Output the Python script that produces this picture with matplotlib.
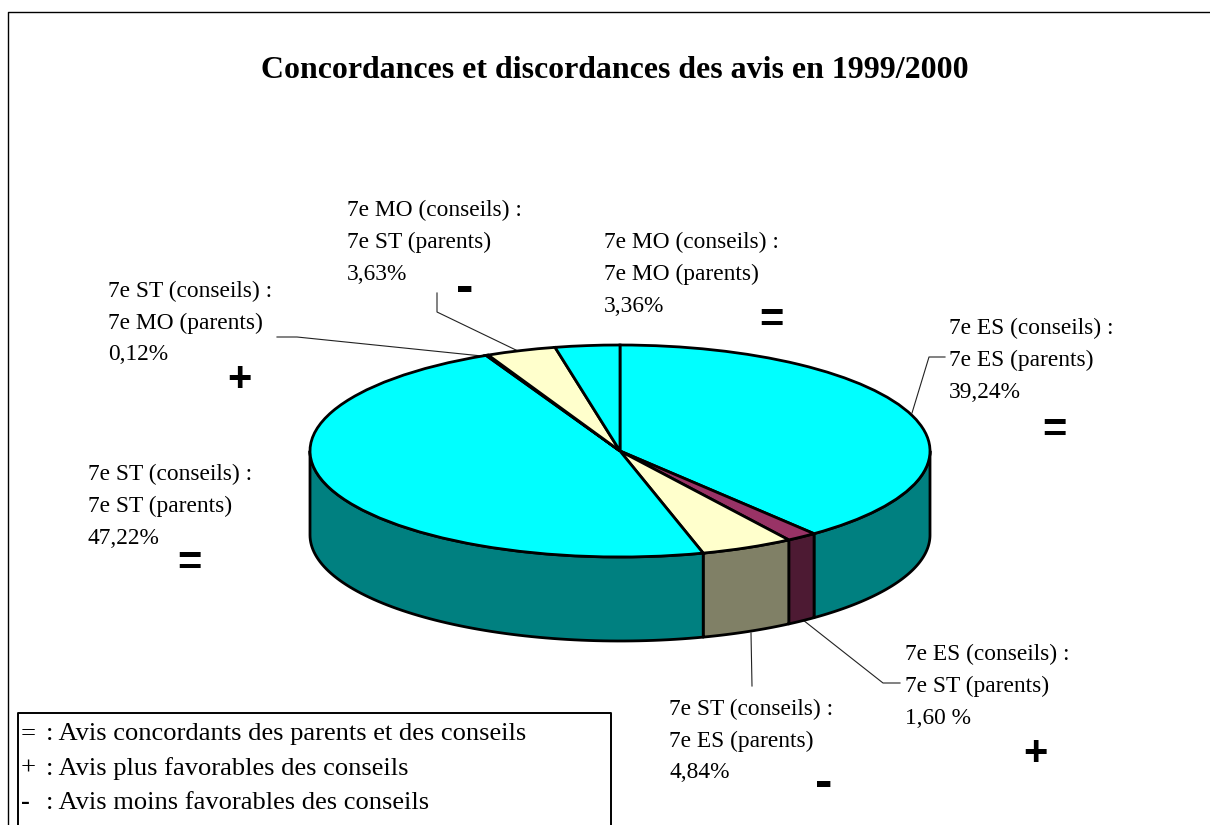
import matplotlib
matplotlib.use('Agg')
import matplotlib.pyplot as plt
import numpy as np

# Data
titre = 'Concordances et discordances des avis en 1999/2000'
conseils = ['7e ES', '7e ES', '7e ST', '7e ST', '7e ST', '7e MO', '7e MO']
parents = ['7e ES', '7e ST', '7e ES', '7e ST', '7e MO', '7e ST', '7e MO']
valeurs = [39.24, 1.60, 4.84, 47.22, 0.12, 3.63, 3.36]
pourcents = ['39,24%', '1,60 %', '4,84%', '47,22%', '0,12%', '3,63%', '3,36%']
signes = ['=', '+', '-', '=', '+', '-', '=']
legende_signes = ['=', '+', '-']
legende_textes = [': Avis concordants des parents et des conseils',
                  ': Avis plus favorables des conseils',
                  ': Avis moins favorables des conseils']

# Styles
couleurs_dessus = ['#00FFFF', '#993366', '#FFFFCC', '#00FFFF', '#993366', '#FFFFCC', '#00FFFF']
couleurs_cote = ['#008080', '#4D1A33', '#808066', '#008080', '#4D1A33', '#808066', '#008080']
serif = 'Liberation Serif'

# Layout in pixels
W, H = 1210, 825
cx, cy, rx, ry, depth = 620, 451, 310, 106, 84
label_x = [949, 905, 669, 88, 108, 347, 604]
label_y = [328, 654, 709, 474, 291, 210, 242]
signe_x = [1054, 1035, 824, 189, 239, 465, 771]
signe_y = [431, 754, 784, 564, 380, 289, 321]
leaders = [([912, 929, 945], [413, 357, 357]),
           ([803, 883, 900], [620, 683, 683]),
           ([751, 752], [633, 686]),
           ([482, 297, 277], [356, 337, 337]),
           ([518, 437, 437], [351, 312, 293])]

fig = plt.figure(figsize=(W / 100, H / 100), dpi=100)
page = fig.add_axes([0, 0, 1, 1])
page.set_xlim(0, W)
page.set_ylim(H, 0)
page.axis('off')

# Frame, cut by the picture edge on the right and at the bottom
page.plot([8, 8, W + 5], [H + 5, 12, 12], color='black', lw=1)

page.text(615, 71, titre, family=serif, weight='bold', fontsize=22.95, ha='center', va='center')

# Pie axes: a unit circle becomes the ellipse
pad = 0.2
d = depth / ry
left = cx - rx * (1 + pad)
bottom = H - (cy + ry * (1 + d + pad))
pie_ax = fig.add_axes([left / W, bottom / H, 2 * rx * (1 + pad) / W, ry * (2 + d + 2 * pad) / H])
pie_ax.patch.set_alpha(0)

# Side wall, only the part facing the viewer (90 to 270 degrees clockwise from the top)
bords = np.cumsum([0] + valeurs) / sum(valeurs) * 360
for i in range(len(valeurs)):
    a = max(bords[i], 90)
    b = min(bords[i + 1], 270)
    if b <= a:
        continue
    t = np.radians(np.linspace(a, b, 80))
    xs = np.concatenate([np.sin(t), np.sin(t[::-1])])
    ys = np.concatenate([np.cos(t), np.cos(t[::-1]) - d])
    pie_ax.fill(xs, ys, facecolor=couleurs_cote[i], edgecolor='black', lw=2, joinstyle='round')

pie_ax.pie(valeurs, colors=couleurs_dessus, startangle=90, counterclock=False,
           wedgeprops={'edgecolor': 'black', 'linewidth': 2})
pie_ax.set_aspect('auto')
pie_ax.set_xlim(-1 - pad, 1 + pad)
pie_ax.set_ylim(-1 - d - pad, 1 + pad)
pie_ax.axis('off')

# Leader lines
for xs, ys in leaders:
    page.plot(xs, ys, color='#222222', lw=0.8)

# Labels, one text per line
for i in range(len(valeurs)):
    lignes = [conseils[i] + ' (conseils) :', parents[i] + ' (parents)', pourcents[i]]
    for j, ligne in enumerate(lignes):
        page.text(label_x[i], label_y[i] + j * 32, ligne, family=serif, fontsize=16.8, va='center')
    taille = 38 if signes[i] == '-' else 30
    page.text(signe_x[i], signe_y[i], signes[i], family='Liberation Sans', weight='bold',
              fontsize=taille, ha='center', va='center')

# Legend box, also cut by the bottom of the picture
page.plot([18, 18, 611, 611], [H + 5, 713, 713, H + 5], color='black', lw=1.4)
for i in range(len(legende_textes)):
    y = 734 + i * 34.5
    poids = 'bold' if legende_signes[i] == '-' else 'normal'
    page.text(21, y, legende_signes[i], family=serif, weight=poids, fontsize=19.05, va='center')
    page.text(46, y, legende_textes[i], family=serif, fontsize=19.05, va='center')

fig.savefig('out.png', dpi=100)
